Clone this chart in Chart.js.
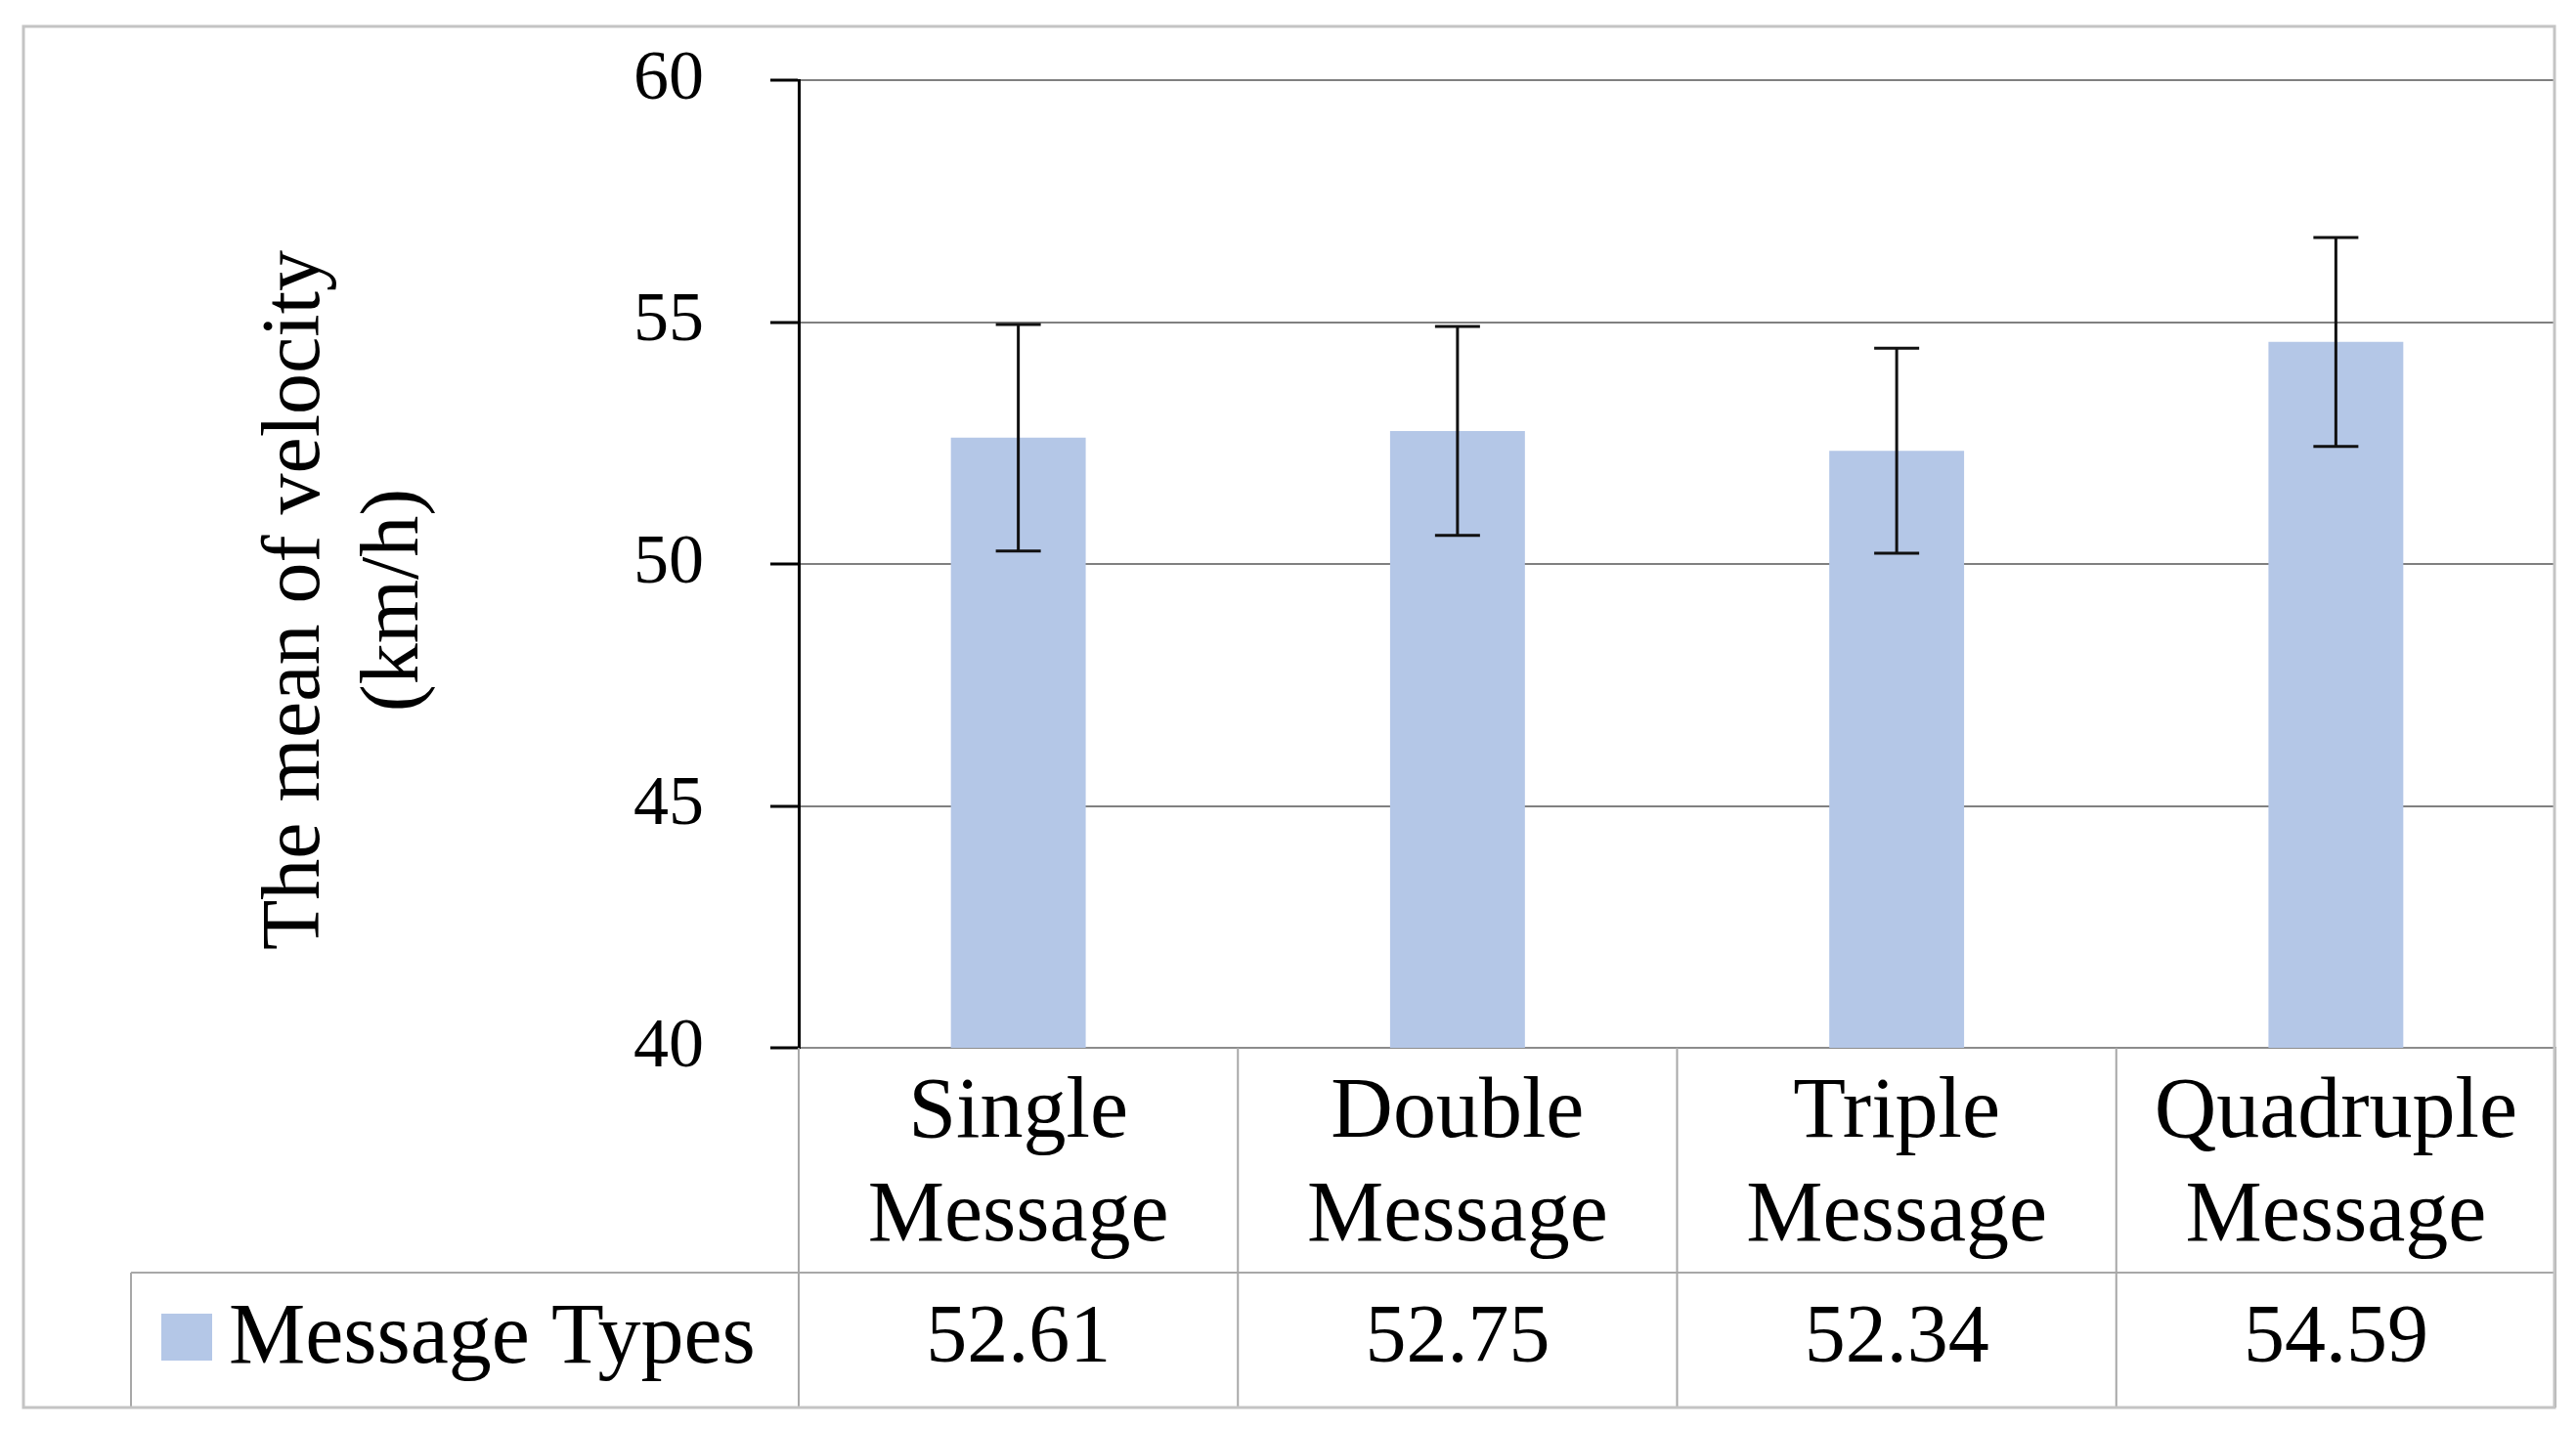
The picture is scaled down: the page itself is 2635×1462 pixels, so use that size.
<!DOCTYPE html>
<html><head><meta charset="utf-8">
<script src="https://cdn.jsdelivr.net/npm/chart.js@4.4.1/dist/chart.umd.min.js"></script>
<style>html,body{margin:0;padding:0;background:#fff;overflow:hidden}canvas{display:block}</style>
</head><body>
<canvas id="c" width="2635" height="1462"></canvas>
<script>
// ---- data ----
const categories = [['Single', 'Message'], ['Double', 'Message'], ['Triple', 'Message'], ['Quadruple', 'Message']];
const meanValues = [52.61, 52.75, 52.34, 54.59];
const errorValues = [2.34, 2.16, 2.12, 2.16];
const seriesName = 'Message Types';
const yTickValues = [40, 45, 50, 55, 60];
const yTitle = ['The mean of velocity', '(km/h)'];

// ---- style ----
const FONT = "'Liberation Serif', 'Times New Roman', serif";
const BAR_COLOR = '#b4c7e7';
const TABLE_LINE = '#a8a8a8';
const FRAME = { left: 24, top: 27, right: 2613, bottom: 1440 };
const ROW2_TOP = 1302;
const LEGEND_LEFT = 134;

const tablePlugin = {
  id: 'tablePlugin',
  beforeDraw(chart) {
    const ctx = chart.ctx;
    ctx.save();
    ctx.fillStyle = '#fff';
    ctx.fillRect(0, 0, chart.width, chart.height);
    ctx.restore();
  },
  afterDatasetsDraw(chart) {
    const ctx = chart.ctx;
    const meta = chart.getDatasetMeta(0);
    const y = chart.scales.y;
    ctx.save();
    ctx.strokeStyle = '#111';
    ctx.lineWidth = 3;
    const cap = 23;
    meta.data.forEach((bar, i) => {
      const x = bar.x;
      const yt = y.getPixelForValue(meanValues[i] + errorValues[i]);
      const yb = y.getPixelForValue(meanValues[i] - errorValues[i]);
      ctx.beginPath();
      ctx.moveTo(x, yt); ctx.lineTo(x, yb);
      ctx.moveTo(x - cap, yt); ctx.lineTo(x + cap, yt);
      ctx.moveTo(x - cap, yb); ctx.lineTo(x + cap, yb);
      ctx.stroke();
    });
    ctx.restore();
  },
  afterDraw(chart) {
    const ctx = chart.ctx;
    const xs = chart.scales.x;
    const area = chart.chartArea;
    const n = categories.length;
    const centers = categories.map((c, i) => xs.getPixelForValue(i));
    const bounds = [area.left];
    for (let i = 0; i < n - 1; i++) bounds.push((centers[i] + centers[i + 1]) / 2);
    bounds.push(area.right);

    ctx.save();
    // y-axis title (two lines, rotated)
    ctx.fillStyle = '#000';
    ctx.font = `84px ${FONT}`;
    ctx.textAlign = 'center';
    ctx.textBaseline = 'middle';
    ctx.save();
    ctx.translate(304, 614);
    ctx.rotate(-Math.PI / 2);
    yTitle.forEach((t, i) => ctx.fillText(t, 0, i * 101));
    ctx.restore();

    ctx.strokeStyle = TABLE_LINE;
    ctx.lineWidth = 2;
    ctx.beginPath();
    ctx.moveTo(LEGEND_LEFT, ROW2_TOP); ctx.lineTo(FRAME.right, ROW2_TOP);
    ctx.moveTo(LEGEND_LEFT, ROW2_TOP); ctx.lineTo(LEGEND_LEFT, FRAME.bottom);
    bounds.forEach(b => { ctx.moveTo(b, area.bottom); ctx.lineTo(b, FRAME.bottom); });
    ctx.moveTo(LEGEND_LEFT, FRAME.bottom); ctx.lineTo(FRAME.right, FRAME.bottom);
    ctx.stroke();

    // values row
    const rowMid = (ROW2_TOP + FRAME.bottom) / 2;
    ctx.fillStyle = '#000';
    ctx.font = `84px ${FONT}`;
    ctx.textAlign = 'center';
    ctx.textBaseline = 'middle';
    meanValues.forEach((v, i) => ctx.fillText(v.toFixed(2), centers[i], rowMid));

    // legend key
    ctx.fillStyle = BAR_COLOR;
    ctx.fillRect(165, 1344, 52, 48);
    ctx.fillStyle = '#000';
    ctx.font = `88px ${FONT}`;
    ctx.textAlign = 'left';
    ctx.fillText(seriesName, 234, rowMid);

    // outer frame
    ctx.strokeStyle = '#c4c4c4';
    ctx.lineWidth = 3;
    ctx.strokeRect(FRAME.left, FRAME.top, FRAME.right - FRAME.left, FRAME.bottom - FRAME.top);
    ctx.restore();
  }
};

new Chart(document.getElementById('c'), {
  type: 'bar',
  data: {
    labels: categories,
    datasets: [{
      label: seriesName,
      data: meanValues,
      backgroundColor: BAR_COLOR,
      borderWidth: 0,
      barPercentage: 0.307,
      categoryPercentage: 1.0
    }]
  },
  options: {
    responsive: false,
    animation: false,
    devicePixelRatio: 1,
    layout: { padding: { left: FRAME.left, top: 82, right: 2635 - 2614, bottom: 1462 - FRAME.bottom } },
    plugins: { legend: { display: false }, tooltip: { enabled: false }, title: { display: false } },
    scales: {
      x: {
        type: 'category',
        offset: true,
        grid: { display: false },
        border: { display: true, color: '#8c8c8c', width: 2 },
        ticks: {
          color: '#000',
          font: { family: FONT, size: 88, lineHeight: 1.2 },
          padding: 7,
          maxRotation: 0,
          minRotation: 0,
          autoSkip: false
        },
        afterFit(scale) { scale.height = FRAME.bottom - 1072; }
      },
      y: {
        min: yTickValues[0],
        max: yTickValues[yTickValues.length - 1],
        afterBuildTicks(scale) { scale.ticks = yTickValues.map(v => ({ value: v })); },
        grid: { color: '#808080', lineWidth: 2, tickLength: 29, tickColor: '#000', tickWidth: 3 },
        border: { display: true, color: '#000', width: 3 },
        ticks: {
          color: '#000',
          font: { family: FONT, size: 72 },
          padding: 68
        },
        title: { display: false },
        afterFit(scale) {
          scale.width = 817 - FRAME.left;
          scale.paddingTop = 0;
          scale.paddingBottom = 0;
        }
      }
    }
  },
  plugins: [tablePlugin]
});
</script>
</body></html>
